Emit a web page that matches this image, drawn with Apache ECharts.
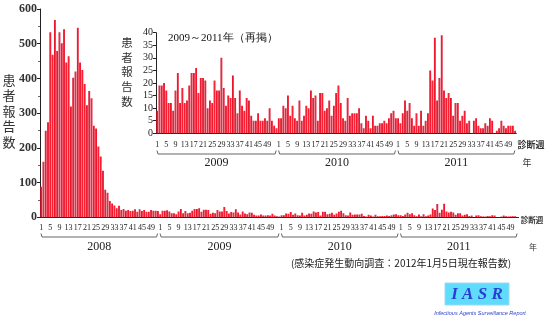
<!DOCTYPE html>
<html><head><meta charset="utf-8">
<script src="https://cdn.jsdelivr.net/npm/echarts@6/dist/echarts.min.js"></script>
<style>html,body{margin:0;padding:0;background:#fff}#c{width:550px;height:323px}</style>
</head><body><div id="c"></div>
<script>
// ---- data ----
const years = ['2008', '2009', '2010', '2011'];
const weeksPerYear = [52, 53, 52, 52];
const labelWeeks = [1, 5, 9, 13, 17, 21, 25, 29, 33, 37, 41, 45, 49];
const mainYTicks = [0, 100, 200, 300, 400, 500, 600];
const insetYTicks = [0, 5, 10, 15, 20, 25, 30, 35, 40];

const v2008 = [88,160,249,274,533,468,568,479,533,501,542,446,464,319,402,420,546,446,424,384,
  323,364,343,264,256,204,175,134,79,71,47,40,34,26,33,21,24,19,21,18,19,23,16,23,18,21,16,16,21,19,19,18];
const v2009 = [9,19,19,20,17,12,12,9,17,24,12,18,12,13,19,24,24,26,16,22,
  22,21,10,13,12,21,17,17,30,18,11,15,14,23,14,8,17,11,9,14,13,7,5,5,8,5,5,6,5,10,5,3,2];
const v2010 = [6,6,11,10,15,7,11,6,5,13,5,7,11,10,17,14,15,5,16,16,9,10,13,7,
  11,16,19,12,6,5,14,7,8,8,8,10,4,2,7,5,2,7,3,3,4,4,5,4,6,8,9,6];
const v2011 = [6,4,8,13,9,12,6,3,8,3,9,3,5,8,25,21,38,13,22,39,
  17,14,16,14,7,12,12,5,7,9,4,5,0,5,6,3,2,2,4,3,6,5,0,1,2,5,3,2,3,3,3,1];

const title = '2009～2011年（再掲）';
const yName = '患者報告数';
const xName = '診断週';
const yearName = '年';
const source = '(感染症発生動向調査：2012年1月5日現在報告数)';

// ---- build ----
const valuesByYear = [v2008, v2009, v2010, v2011];
function cats(fromYear) {
  const out = [];
  for (let y = fromYear; y < years.length; y++)
    for (let w = 1; w <= weeksPerYear[y]; w++) out.push(years[y] + '-' + w);
  return out;
}
const mainCats = cats(0), insetCats = cats(1);
const mainVals = [].concat(...valuesByYear);
const insetVals = [].concat(...valuesByYear.slice(1));

const SERIF = '"Liberation Serif","DejaVu Serif",serif';
const CJK = '"Noto Sans CJK JP",sans-serif';
const barColor = new echarts.graphic.LinearGradient(0, 0, 1, 0, [
  {offset: 0, color: '#d0001a'}, {offset: 0.5, color: '#ff2536'}, {offset: 1, color: '#e4001e'}]);

function weekOf(v) { return +String(v).split('-')[1]; }
function xAxis(gridIndex, data, margin) {
  return {
    type: 'category', gridIndex, data,
    axisLine: {lineStyle: {color: '#222', width: 1}},
    axisTick: {interval: 0, length: 3, lineStyle: {color: '#888'}},
    axisLabel: {
      interval: (i, v) => labelWeeks.includes(weekOf(v)),
      formatter: v => String(weekOf(v)),
      fontFamily: SERIF, fontSize: 8, color: '#222', margin, hideOverlap: false
    }
  };
}

const chart = echarts.init(document.getElementById('c'), null, {renderer: 'canvas'});
chart.setOption({
  backgroundColor: '#fff',
  animation: false,
  grid: [
    {left: 40, right: 31.4, top: 9, bottom: 105.7},
    {left: 156, right: 33.7, top: 32.7, bottom: 189.7}
  ],
  xAxis: [xAxis(0, mainCats, 6.5), xAxis(1, insetCats, 7.5)],
  yAxis: [
    {type: 'value', gridIndex: 0, min: mainYTicks[0], max: mainYTicks[mainYTicks.length - 1], interval: 100,
      splitLine: {show: false},
      axisLine: {show: true, lineStyle: {color: '#222'}},
      axisTick: {show: true, length: 3, lineStyle: {color: '#222'}},
      minorTick: {show: true, splitNumber: 2, length: 2, lineStyle: {color: '#666'}},
      axisLabel: {fontFamily: SERIF, fontSize: 12, fontWeight: 'bold', color: '#333', margin: 3}},
    {type: 'value', gridIndex: 1, min: insetYTicks[0], max: insetYTicks[insetYTicks.length - 1], interval: 5,
      splitLine: {show: false},
      axisLine: {show: true, lineStyle: {color: '#222'}},
      axisTick: {show: true, length: 3, lineStyle: {color: '#222'}},
      axisLabel: {fontFamily: SERIF, fontSize: 10, color: '#222', margin: 3}}
  ],
  series: [
    {type: 'bar', xAxisIndex: 0, yAxisIndex: 0, data: mainVals, barCategoryGap: '22%',
      itemStyle: {color: barColor}},
    {type: 'bar', xAxisIndex: 1, yAxisIndex: 1, data: insetVals, barCategoryGap: '22%',
      itemStyle: {color: barColor}}
  ]
});

// ---- brackets, year labels and texts ----
function brackets(axisIndex, firstYear, yLine, yLabel, fs) {
  const out = [];
  const px = i => chart.convertToPixel({xAxisIndex: axisIndex}, i);
  const bw = px(1) - px(0);
  let s = 0;
  for (let y = firstYear; y < years.length; y++) {
    const e = s + weeksPerYear[y];
    const x0 = px(s) - bw / 2 + 1, x1 = px(e - 1) + bw / 2 - 1.5;
    out.push({type: 'polyline', silent: true,
      shape: {points: [[x0, yLine - 3.5], [x0 + 1, yLine], [x1 - 1, yLine], [x1, yLine - 3.5]]},
      style: {stroke: '#666', lineWidth: 1, fill: null}});
    out.push({type: 'text', x: (x0 + x1) / 2, y: yLabel,
      style: {text: years[y], fontFamily: SERIF, fontSize: fs, fill: '#222', align: 'center', verticalAlign: 'middle'}});
    s = e;
  }
  return out;
}
const vert = t => t.split('').join('\n');
const g = [].concat(
  brackets(0, 0, 237, 247, 12),
  brackets(1, 1, 154, 163, 12),
  [
    {type: 'text', x: 9, y: 111, style: {text: vert(yName), fontFamily: CJK, fontSize: 13, lineHeight: 15.5, fill: '#333', align: 'center', verticalAlign: 'middle'}},
    {type: 'text', x: 127, y: 72, style: {text: vert(yName), fontFamily: CJK, fontSize: 11.5, lineHeight: 14.7, fill: '#333', align: 'center', verticalAlign: 'middle'}},
    {type: 'text', x: 168, y: 38, style: {text: title, fontFamily: SERIF, fontSize: 11, fill: '#111', align: 'left', verticalAlign: 'middle'}},
    {type: 'text', x: 532, y: 220, style: {text: xName, fontFamily: CJK, fontSize: 7.5, fontWeight: 'bold', fill: '#333', align: 'center', verticalAlign: 'middle'}},
    {type: 'text', x: 533, y: 247, style: {text: yearName, fontFamily: CJK, fontSize: 8, fill: '#333', align: 'center', verticalAlign: 'middle'}},
    {type: 'text', x: 531, y: 145, style: {text: xName, fontFamily: CJK, fontSize: 9, fontWeight: 'bold', fill: '#333', align: 'center', verticalAlign: 'middle'}},
    {type: 'text', x: 527, y: 163, style: {text: yearName, fontFamily: CJK, fontSize: 9, fill: '#333', align: 'center', verticalAlign: 'middle'}},
    {type: 'text', x: 401, y: 263, style: {text: source, fontFamily: CJK, fontSize: 10, fill: '#222', align: 'center', verticalAlign: 'middle'}},
    {type: 'rect', shape: {x: 445, y: 283, width: 64, height: 22}, style: {fill: '#5fdcfb', stroke: '#9fd8f0', lineWidth: 1}},
    {type: 'text', x: 477, y: 294.5, style: {text: 'I A S R', fontFamily: SERIF, fontSize: 17, fontWeight: 'bold', fontStyle: 'italic', fill: '#2a3fd0', align: 'center', verticalAlign: 'middle'}},
    {type: 'text', x: 480, y: 313, style: {text: 'Infectious Agents Surveillance Report', fontFamily: '"Liberation Sans",sans-serif', fontSize: 5.5, fontStyle: 'italic', fill: '#2a3fd0', align: 'center', verticalAlign: 'middle'}}
  ]
);
chart.setOption({graphic: g});
</script></body></html>
